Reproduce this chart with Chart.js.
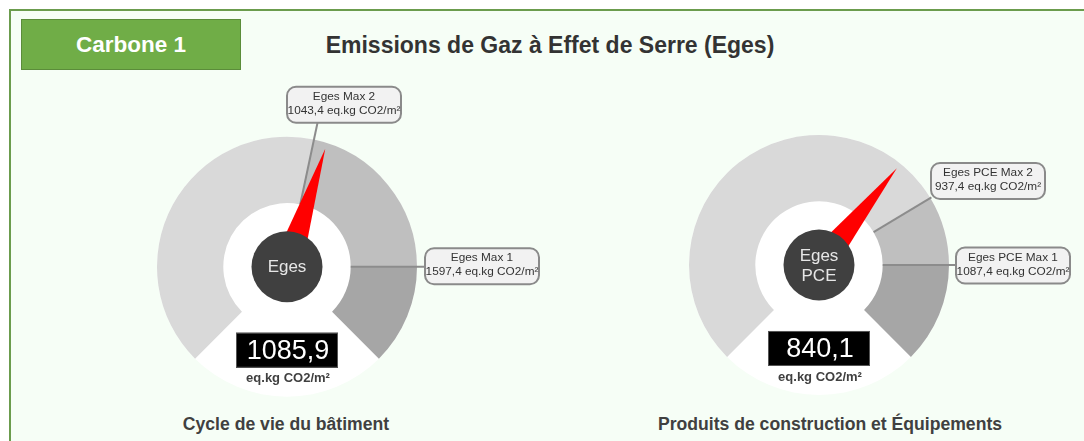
<!DOCTYPE html>
<html lang="fr">
<head>
<meta charset="utf-8">
<script src="https://cdn.jsdelivr.net/npm/chart.js@4.4.0/dist/chart.umd.min.js"></script>
<style>
  html, body { margin: 0; padding: 0; background: #fff; }
  body { width: 1084px; height: 441px; position: relative; overflow: hidden; font-family: Arial, "Liberation Sans", sans-serif; }
  #panel { position: absolute; left: 9px; top: 9px; width: 1090px; height: 450px; border-top: 2px solid #6b9c4d; border-left: 2px solid #6b9c4d; background: #f6fef6; }
  #badge { position: absolute; left: 21px; top: 19px; width: 218px; height: 49px; background: #70ad47; border: 1px solid #5b8c3a; color: #fff; font-weight: bold; font-size: 22.5px; line-height: 49px; text-align: center; }
  #title { position: absolute; left: 250px; width: 600px; top: 30px; text-align: center; font-weight: bold; font-size: 23px; color: #333; line-height: 30px; }
  .sub { position: absolute; top: 412px; text-align: center; font-weight: bold; font-size: 17.6px; color: #404040; line-height: 24px; }
  #sub0 { left: 86px; width: 400px; }
  #sub1 { left: 630px; width: 400px; }
  .gauge { position: absolute; top: 75px; }
  #wrap0 { left: 140px; width: 420px; height: 330px; }
  #wrap1 { left: 672px; width: 412px; height: 330px; }
</style>
</head>
<body>
<div id="panel"></div>
<div id="badge">Carbone 1</div>
<div id="title">Emissions de Gaz à Effet de Serre (Eges)</div>
<div class="gauge" id="wrap0"><canvas id="gauge0" width="420" height="330"></canvas></div>
<div class="gauge" id="wrap1"><canvas id="gauge1" width="412" height="330"></canvas></div>
<div class="sub" id="sub0"></div>
<div class="sub" id="sub1"></div>
<script>
// DATA
const gaugeTitles = ['Cycle de vie du bâtiment', 'Produits de construction et Équipements'];
const centerLabels = [['Eges'], ['Eges', 'PCE']];
const gaugeValues = [1085.9, 840.1];
const max2Values = [1043.4, 937.4];
const max1Values = [1597.4, 1087.4];
const scaleMax = [1916.9, 1304.9];
const max2Labels = ['Eges Max 2', 'Eges PCE Max 2'];
const max1Labels = ['Eges Max 1', 'Eges PCE Max 1'];
const unitLabel = 'eq.kg CO2/m²';

const ZONE_COLORS = ['#d9d9d9', '#bfbfbf', '#a6a6a6'];

// callout boxes, offset from gauge center
const BOX_W = 114, BOX_H = 36;
const boxPos = [
  {max2: [0, -180], max1: [138, -18.5]},
  {max2: [112, -102], max1: [137, -17.5]}
];

const fmt = (v) => v.toFixed(1).replace('.', ',');

const roundRect = (ctx, x, y, w, h, r) => {
  ctx.beginPath();
  ctx.moveTo(x + r, y);
  ctx.arcTo(x + w, y, x + w, y + h, r);
  ctx.arcTo(x + w, y + h, x, y + h, r);
  ctx.arcTo(x, y + h, x, y, r);
  ctx.arcTo(x, y, x + w, y, r);
  ctx.closePath();
};

const drawCallout = (ctx, arc, angle, pos, lines) => {
  const bx = arc.x + pos[0], by = arc.y + pos[1];
  // radial line from the inner edge until it reaches the box
  let r = arc.innerRadius;
  let px, py;
  for (; r < 400; r += 0.5) {
    px = arc.x + Math.cos(angle) * r;
    py = arc.y + Math.sin(angle) * r;
    if (px >= bx && px <= bx + BOX_W && py >= by && py <= by + BOX_H) break;
  }
  ctx.strokeStyle = '#8c8c8c';
  ctx.lineWidth = 2;
  ctx.beginPath();
  ctx.moveTo(arc.x + Math.cos(angle) * arc.innerRadius, arc.y + Math.sin(angle) * arc.innerRadius);
  ctx.lineTo(px, py);
  ctx.stroke();

  roundRect(ctx, bx, by, BOX_W, BOX_H, 9);
  ctx.fillStyle = '#f2f2f2';
  ctx.fill();
  ctx.strokeStyle = '#8a8a8a';
  ctx.lineWidth = 2;
  ctx.stroke();

  ctx.fillStyle = '#333';
  ctx.font = '11.8px Arial, "Liberation Sans", sans-serif';
  ctx.textAlign = 'center';
  ctx.textBaseline = 'middle';
  ctx.fillText(lines[0], bx + BOX_W / 2, by + 10);
  ctx.fillText(lines[1], bx + BOX_W / 2, by + 24);
};

const gaugePlugin = {
  id: 'gauge',
  beforeDatasetsDraw(chart) {
    const arc = chart.getDatasetMeta(0).data[0];
    const ctx = chart.ctx;
    ctx.save();
    ctx.fillStyle = '#ffffff';
    ctx.beginPath();
    ctx.arc(arc.x, arc.y, arc.outerRadius, 0, Math.PI * 2);
    ctx.fill();
    ctx.restore();
  },
  afterDatasetsDraw(chart, args, opts) {
    const i = opts.index;
    const arcs = chart.getDatasetMeta(0).data;
    const arc = arcs[0];
    const ctx = chart.ctx;
    const start = arcs[0].startAngle;
    const end = arcs[arcs.length - 1].endAngle;
    const total = chart.data.datasets[0].data.reduce((a, b) => a + b, 0);
    ctx.save();

    // thresholds
    drawCallout(ctx, arc, arcs[0].endAngle, boxPos[i].max2, [max2Labels[i], fmt(max2Values[i]) + ' ' + unitLabel]);
    drawCallout(ctx, arc, arcs[1].endAngle, boxPos[i].max1, [max1Labels[i], fmt(max1Values[i]) + ' ' + unitLabel]);

    // needle
    const a = start + (gaugeValues[i] / total) * (end - start);
    const tipR = arc.outerRadius * 0.955;
    const half = 15;
    const nx = -Math.sin(a), ny = Math.cos(a);
    ctx.fillStyle = '#ff0000';
    ctx.beginPath();
    ctx.moveTo(arc.x + Math.cos(a) * tipR, arc.y + Math.sin(a) * tipR);
    ctx.lineTo(arc.x + nx * half, arc.y + ny * half);
    ctx.lineTo(arc.x - nx * half, arc.y - ny * half);
    ctx.closePath();
    ctx.fill();

    // hub
    ctx.fillStyle = '#404040';
    ctx.beginPath();
    ctx.arc(arc.x, arc.y, 35.5, 0, Math.PI * 2);
    ctx.fill();
    ctx.fillStyle = '#e6e6e6';
    ctx.font = '17px Arial, "Liberation Sans", sans-serif';
    ctx.textAlign = 'center';
    ctx.textBaseline = 'middle';
    const lines = centerLabels[i];
    lines.forEach((t, k) => {
      ctx.fillText(t, arc.x, arc.y + (k - (lines.length - 1) / 2) * 20 + 1);
    });

    // value box
    ctx.fillStyle = '#000';
    ctx.fillRect(arc.x - 51, arc.y + 66, 102, 35);
    ctx.strokeStyle = '#555';
    ctx.lineWidth = 1;
    ctx.strokeRect(arc.x - 50.5, arc.y + 66.5, 101, 34);
    ctx.fillStyle = '#fff';
    ctx.font = '27px Arial, "Liberation Sans", sans-serif';
    ctx.fillText(fmt(gaugeValues[i]), arc.x + 1, arc.y + 85);
    ctx.fillStyle = '#404040';
    ctx.font = 'bold 13px Arial, "Liberation Sans", sans-serif';
    ctx.fillText(unitLabel, arc.x + 1, arc.y + 112);
    ctx.restore();
  }
};

const PADS = [
  {left: 17, right: 143, top: 30, bottom: 14.6},
  {left: 17, right: 135, top: 30, bottom: 18.1}
];

[0, 1].forEach(i => {
  document.getElementById('sub' + i).textContent = gaugeTitles[i];
  const zones = [max2Values[i], max1Values[i] - max2Values[i], scaleMax[i] - max1Values[i]];
  new Chart(document.getElementById('gauge' + i), {
    type: 'doughnut',
    data: {
      labels: [max2Labels[i], max1Labels[i], 'Max'],
      datasets: [{
        data: zones,
        backgroundColor: ZONE_COLORS,
        borderWidth: 0
      }]
    },
    options: {
      responsive: false,
      animation: false,
      events: [],
      rotation: -135,
      circumference: 270,
      cutout: '49%',
      radius: 130,
      layout: {padding: PADS[i]},
      plugins: {
        legend: {display: false},
        tooltip: {enabled: false},
        gauge: {index: i}
      }
    },
    plugins: [gaugePlugin]
  });
});
</script>
</body>
</html>
